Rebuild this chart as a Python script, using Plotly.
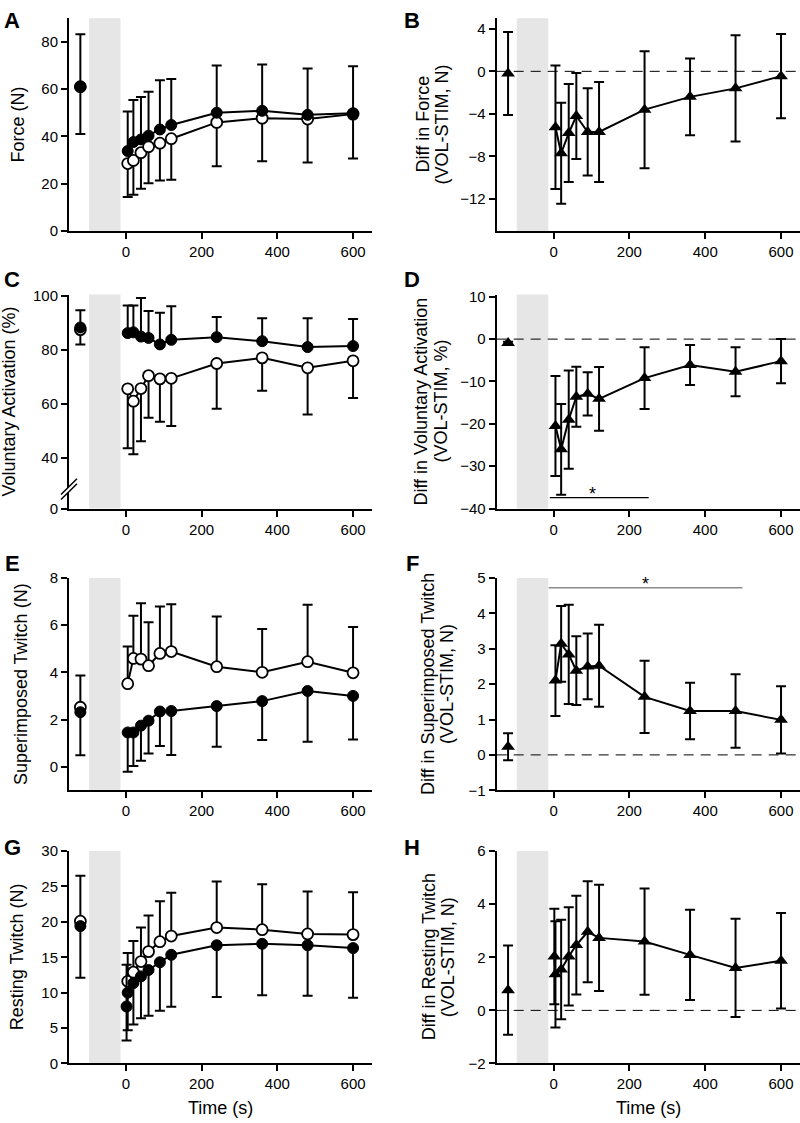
import plotly.graph_objects as go

# ---------------- data ----------------
# time points (s); first entry is the pre-exercise baseline
t = [-120, 5, 20, 40, 60, 90, 120, 240, 360, 480, 600]
t_extra = [-120, 2, 5, 20, 40, 60, 90, 120, 240, 360, 480, 600]

# A / B : force
force_vol = [61.0, 28.5, 29.8, 33.1, 35.6, 37.1, 39.0, 45.9, 47.7, 47.3, 49.4]
force_vol_sd = [20.0, 14.2, 14.5, 15.3, 15.4, 15.8, 17.4, 18.6, 18.2, 18.4, 18.8]
force_stim = [61.0, 33.8, 37.6, 38.7, 40.3, 42.9, 44.8, 50.0, 50.8, 49.1, 49.8]
force_stim_sd = [22.2, 16.7, 17.8, 17.9, 18.6, 20.8, 19.5, 20.0, 19.6, 19.6, 19.9]
force_diff = [-0.2, -5.25, -7.7, -5.8, -4.2, -5.7, -5.7, -3.6, -2.4, -1.6, -0.45]
force_diff_sd = [3.9, 5.8, 4.75, 4.6, 4.05, 4.1, 4.7, 5.5, 3.6, 5.0, 3.95]

# C / D : voluntary activation
va_vol = [87.6, 65.6, 61.0, 65.7, 70.5, 69.3, 69.5, 75.0, 77.1, 73.4, 76.0]
va_vol_sd = [5.5, 22.1, 19.7, 19.6, 15.6, 15.9, 17.7, 16.8, 12.2, 17.3, 13.8]
va_stim = [88.4, 86.3, 86.6, 85.0, 84.5, 82.1, 83.8, 84.8, 83.3, 81.1, 81.5]
va_stim_sd = [6.4, 10.3, 10.0, 14.3, 10.0, 11.8, 12.5, 7.5, 8.5, 10.7, 10.0]
va_diff = [-0.9, -20.5, -26.0, -19.0, -13.6, -12.9, -14.1, -9.2, -6.1, -7.7, -5.2]
va_diff_sd = [0.3, 11.8, 10.7, 11.6, 7.1, 5.1, 7.5, 7.3, 4.7, 5.8, 5.2]

# E / F : superimposed twitch
st_vol = [2.52, 3.52, 4.59, 4.56, 4.28, 4.80, 4.88, 4.24, 4.00, 4.45, 3.98]
st_vol_sd = [1.35, 1.57, 1.81, 2.37, 1.84, 1.99, 2.00, 2.13, 1.84, 2.41, 1.94]
st_stim = [2.31, 1.45, 1.45, 1.74, 1.95, 2.34, 2.36, 2.57, 2.78, 3.21, 3.00]
st_stim_sd = [1.82, 1.66, 1.42, 1.49, 1.39, 1.46, 1.86, 1.72, 1.65, 2.15, 1.85]
st_diff = [0.23, 2.10, 3.14, 2.84, 2.38, 2.50, 2.52, 1.64, 1.24, 1.24, 0.99]
st_diff_sd = [0.38, 1.00, 1.07, 1.40, 0.97, 0.93, 1.16, 1.02, 0.80, 1.04, 0.95]

# G / H : resting twitch (STIM and difference have an extra early point)
rt_vol = [20.1, 11.6, 12.9, 14.4, 15.8, 17.2, 18.0, 19.2, 18.9, 18.3, 18.2]
rt_vol_sd = [6.4, 4.0, 4.4, 4.8, 5.1, 5.7, 6.1, 6.5, 6.4, 6.0, 6.0]
rt_stim = [19.4, 8.05, 10.0, 11.35, 12.3, 13.2, 14.3, 15.35, 16.7, 16.9, 16.7, 16.3]
rt_stim_sd = [7.3, 4.8, 5.3, 5.85, 5.9, 6.45, 6.86, 7.35, 7.3, 7.27, 7.12, 7.0]
rt_stim_sd_up = [0, 5.9, 0, 0, 0, 0, 0, 0, 0, 0, 0, 0]
rt_diff = [0.76, 2.03, 1.36, 1.54, 2.03, 2.46, 2.96, 2.73, 2.59, 2.09, 1.60, 1.87]
rt_diff_sd = [1.68, 1.80, 2.0, 1.87, 1.85, 1.86, 1.90, 2.0, 2.0, 1.70, 1.85, 1.80]

# exercise period (shaded) and significance bars
shade_t = [-97, -14]
d_sig_t, d_sig_y = [-10, 251], -37.4
f_sig_t, f_sig_y = [-13, 498], 4.72

# ---------------- layout helpers ----------------
W, H = 800, 1123
FONT = "Arial, Liberation Sans, sans-serif"
col_x = [(69, 372), (496.7, 800)]
row_y = [(9.3, 225.3), (290, 507.3), (577.7, 793.3), (855, 1070.7)]


def px(xp):
    return xp / W


def py(yp):
    return 1 - yp / H


def names(i):
    s = '' if i == 1 else str(i)
    return 'x' + s, 'y' + s, 'xaxis' + s, 'yaxis' + s


fig = go.Figure()

MK = {
    'filled': dict(symbol='circle', size=11, color='black', line=dict(color='black', width=1)),
    'open': dict(symbol='circle', size=11, color='white', line=dict(color='black', width=1.8)),
    'tri': dict(symbol='triangle-up', size=12, color='black', line=dict(width=0)),
}


def err(plus, minus):
    return dict(type='data', symmetric=False, array=plus, arrayminus=minus,
                color='black', thickness=2, width=5)


def add_series(i, x, y, plus, minus, kind):
    xr, yr, _, _ = names(i)
    fig.add_trace(go.Scatter(x=x[:1], y=y[:1], mode='markers', marker=MK[kind],
                             error_y=err(plus[:1], minus[:1]), xaxis=xr, yaxis=yr,
                             showlegend=False, cliponaxis=False, hoverinfo='skip'))
    fig.add_trace(go.Scatter(x=x[1:], y=y[1:], mode='lines+markers', marker=MK[kind],
                             line=dict(color='black', width=2),
                             error_y=err(plus[1:], minus[1:]), xaxis=xr, yaxis=yr,
                             showlegend=False, cliponaxis=False, hoverinfo='skip'))


def zeros(a):
    return [0] * len(a)


# A
add_series(1, t, force_vol, zeros(force_vol), force_vol_sd, 'open')
add_series(1, t, force_stim, force_stim_sd, zeros(force_stim), 'filled')
# B
add_series(2, t, force_diff, force_diff_sd, force_diff_sd, 'tri')
# C
add_series(3, t, va_vol, zeros(va_vol), va_vol_sd, 'open')
add_series(3, t, va_stim, va_stim_sd, zeros(va_stim), 'filled')
# D
add_series(4, t, va_diff, va_diff_sd, va_diff_sd, 'tri')
# E
add_series(5, t, st_vol, st_vol_sd, zeros(st_vol), 'open')
add_series(5, t, st_stim, zeros(st_stim), st_stim_sd, 'filled')
# F
add_series(6, t, st_diff, st_diff_sd, st_diff_sd, 'tri')
# G
add_series(7, t, rt_vol, rt_vol_sd, zeros(rt_vol), 'open')
add_series(7, t_extra, rt_stim, rt_stim_sd_up, rt_stim_sd, 'filled')
# H
add_series(8, t_extra, rt_diff, rt_diff_sd, rt_diff_sd, 'tri')

panels = [
    dict(letter='A', yr=[0, 90], tv=[0, 20, 40, 60, 80], tt=None,
         title=['Force (N)'], tx=[18]),
    dict(letter='B', yr=[-15, 5], tv=[-12, -8, -4, 0, 4], tt=None,
         title=['Diff in Force', '(VOL-STIM, N)'], tx=[423, 442]),
    dict(letter='C', yr=[21.1, 100.6], tv=[21.1, 40, 60, 80, 100], tt=['0', '40', '60', '80', '100'],
         title=['Voluntary Activation (%)'], tx=[9]),
    dict(letter='D', yr=[-40, 10.5], tv=[-40, -30, -20, -10, 0, 10], tt=None,
         title=['Diff in Voluntary Activation', '(VOL-STIM, %)'], tx=[421, 441]),
    dict(letter='E', yr=[-1, 8], tv=[0, 2, 4, 6, 8], tt=None,
         title=['Superimposed Twitch (N)'], tx=[21]),
    dict(letter='F', yr=[-1, 5], tv=[-1, 0, 1, 2, 3, 4, 5], tt=None,
         title=['Diff in Superimposed Twitch', '(VOL-STIM, N)'], tx=[428, 447]),
    dict(letter='G', yr=[0, 30], tv=[0, 5, 10, 15, 20, 25, 30], tt=None,
         title=['Resting Twitch (N)'], tx=[17]),
    dict(letter='H', yr=[-2, 6], tv=[-2, 0, 2, 4, 6], tt=None,
         title=['Diff in Resting Twitch', '(VOL-STIM, N)'], tx=[429, 448]),
]

layout = dict(width=W, height=H, margin=dict(l=0, r=0, t=0, b=0),
              paper_bgcolor='white', plot_bgcolor='white',
              font=dict(family=FONT, size=15, color='black'),
              showlegend=False)
shapes = []
annotations = []

for k, p in enumerate(panels):
    i = k + 1
    r, c = k // 2, k % 2
    xr, yr, xk, yk = names(i)
    x0, x1 = col_x[c]
    ytop, ybot = row_y[r]
    axcommon = dict(showline=True, linecolor='black', linewidth=2, ticks='outside',
                    ticklen=6, tickwidth=2, tickcolor='black', showgrid=False,
                    zeroline=False, tickfont=dict(family=FONT, size=15, color='black'))
    layout[xk] = dict(axcommon, domain=[px(x0), min(1.0, px(x1))], range=[-150, 650],
                      tickvals=[0, 200, 400, 600], anchor=yr)
    ya = dict(axcommon, domain=[py(ybot), py(ytop)], range=p['yr'], tickvals=p['tv'], anchor=xr)
    if p['tt']:
        ya['ticktext'] = p['tt']
    layout[yk] = ya

    # shaded exercise period
    shapes.append(dict(type='rect', xref=xr, yref=yr + ' domain', x0=shade_t[0], x1=shade_t[1],
                       y0=0, y1=1, fillcolor='#e6e6e6', line=dict(width=0), layer='below'))
    # dashed zero line for difference panels
    if c == 1:
        shapes.append(dict(type='line', xref=xr + ' domain', yref=yr, x0=0, x1=1, y0=0, y1=0,
                           line=dict(color='black', width=1, dash='10px,7px'), layer='above'))

    # y titles
    ymid = (ytop + ybot) / 2
    for line, lx in zip(p['title'], p['tx']):
        annotations.append(dict(text=line, xref='paper', yref='paper', x=px(lx), y=py(ymid),
                                xanchor='center', yanchor='middle', textangle=-90, showarrow=False,
                                font=dict(family=FONT, size=18, color='black')))
    # panel letter
    lx = 12 if c == 0 else 412
    ly = [12, 275, 563, 851][r]
    annotations.append(dict(text='<b>%s</b>' % p['letter'], xref='paper', yref='paper',
                            x=px(lx), y=py(ly), xanchor='center', yanchor='middle', showarrow=False,
                            font=dict(family=FONT, size=22, color='black')))

# x titles
for c in range(2):
    x0, x1 = col_x[c]
    annotations.append(dict(text='Time (s)', xref='paper', yref='paper', x=px((x0 + x1) / 2),
                            y=py(1116), xanchor='center', yanchor='middle', showarrow=False,
                            font=dict(family=FONT, size=18, color='black')))

# significance bars
shapes.append(dict(type='line', xref='x4', yref='y4', x0=d_sig_t[0], x1=d_sig_t[1],
                   y0=d_sig_y, y1=d_sig_y, line=dict(color='black', width=1.2)))
annotations.append(dict(text='*', xref='x4', yref='y4', x=103,
                        y=d_sig_y, yanchor='middle', yshift=4, showarrow=False,
                        font=dict(family=FONT, size=18, color='black')))
shapes.append(dict(type='line', xref='x6', yref='y6', x0=f_sig_t[0], x1=f_sig_t[1],
                   y0=f_sig_y, y1=f_sig_y, line=dict(color='#8c8c8c', width=1.5)))
annotations.append(dict(text='*', xref='x6', yref='y6', x=242,
                        y=f_sig_y, yanchor='middle', yshift=4, showarrow=False,
                        font=dict(family=FONT, size=18, color='black')))

# axis break marks on panel C
brk = [(61, 493), (77, 477), (77, 482), (61, 498)]
path = 'M %f,%f L %f,%f L %f,%f L %f,%f Z' % tuple(v for pt in brk for v in (px(pt[0]), py(pt[1])))
shapes.append(dict(type='path', xref='paper', yref='paper', path=path, fillcolor='white',
                   line=dict(width=0), layer='above'))
for a, b in [(brk[0], brk[1]), (brk[3], brk[2])]:
    shapes.append(dict(type='line', xref='paper', yref='paper', x0=px(a[0]), y0=py(a[1]),
                       x1=px(b[0]), y1=py(b[1]), line=dict(color='black', width=1.5), layer='above'))

layout['shapes'] = shapes
layout['annotations'] = annotations
fig.update_layout(**layout)
fig.write_html("out.html", config={'displayModeBar': False},
               post_script="document.body.style.margin='0';document.body.style.overflow='hidden';")
